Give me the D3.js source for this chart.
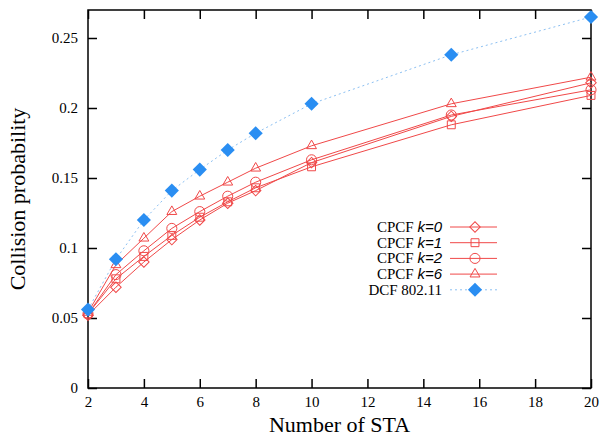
<!DOCTYPE html>
<html>
<head>
<meta charset="utf-8">
<script src="https://cdn.jsdelivr.net/npm/d3@7"></script>
<style>
  body { margin: 0; background: #fff; }
  svg { display: block; }
</style>
</head>
<body>
<div id="chart"></div>
<script>
  const stations = [2, 3, 4, 5, 6, 7, 8, 10, 15, 20];

  const cpcfK0 = [0.052, 0.072, 0.090, 0.106, 0.120, 0.132, 0.141, 0.161, 0.194, 0.218];
  const cpcfK1 = [0.053, 0.078, 0.094, 0.109, 0.122, 0.133, 0.143, 0.158, 0.188, 0.209];
  const cpcfK2 = [0.053, 0.081, 0.098, 0.114, 0.126, 0.137, 0.147, 0.163, 0.195, 0.213];
  const cpcfK6 = [0.054, 0.088, 0.107, 0.126, 0.137, 0.147, 0.157, 0.173, 0.203, 0.222];
  const dcf    = [0.056, 0.092, 0.120, 0.141, 0.156, 0.170, 0.182, 0.203, 0.238, 0.265];

  const xTicks = [2, 4, 6, 8, 10, 12, 14, 16, 18, 20];
  const yTicks = [0, 0.05, 0.1, 0.15, 0.2, 0.25];
  const yTickLabels = ['0', '0.05', '0.1', '0.15', '0.2', '0.25'];

  const red = '#f04848', blue = '#2a8ef2', lightBlue = '#8cc0f2';

  const series = [
    { k: '0', values: cpcfK0, marker: 'diamond' },
    { k: '1', values: cpcfK1, marker: 'square' },
    { k: '2', values: cpcfK2, marker: 'circle' },
    { k: '6', values: cpcfK6, marker: 'triangle' }
  ];

  const width = 600, height = 439;
  const margin = { top: 10, right: 9, bottom: 51, left: 88 };

  const svg = d3.select('#chart')
    .append('svg')
      .attr('width', width)
      .attr('height', height);

  const x = d3.scaleLinear()
    .domain([2, 20])
    .range([margin.left, width - margin.right]);

  const y = d3.scaleLinear()
    .domain([0, 0.27])
    .range([height - margin.bottom, margin.top]);

  const serif = '"Liberation Serif", "Times New Roman", serif';
  const sans = '"Liberation Sans", Arial, sans-serif';

  // axes, ticks pointing inward, mirrored on top/right
  const axisB = svg.append('g')
    .attr('transform', `translate(0,${y(0)})`)
    .call(d3.axisBottom(x).tickValues(xTicks).tickSizeInner(-9).tickSizeOuter(0).tickPadding(8));
  const axisT = svg.append('g')
    .attr('transform', `translate(0,${margin.top})`)
    .call(d3.axisTop(x).tickValues(xTicks).tickSizeInner(-9).tickSizeOuter(0).tickFormat(''));
  const axisL = svg.append('g')
    .attr('transform', `translate(${margin.left},0)`)
    .call(d3.axisLeft(y).tickValues(yTicks).tickSizeInner(-9).tickSizeOuter(0).tickPadding(10)
      .tickFormat((d, i) => yTickLabels[i]));
  const axisR = svg.append('g')
    .attr('transform', `translate(${width - margin.right},0)`)
    .call(d3.axisRight(y).tickValues(yTicks).tickSizeInner(-9).tickSizeOuter(0).tickFormat(''));

  [axisB, axisT, axisL, axisR].forEach((g) => {
    g.select('.domain').remove();
    g.selectAll('line').attr('stroke', '#000').attr('stroke-width', 1.5);
    g.selectAll('text')
      .attr('font-family', serif)
      .attr('font-size', 15)
      .attr('fill', '#000');
  });

  svg.append('rect')
    .attr('x', margin.left)
    .attr('y', margin.top)
    .attr('width', x(20) - x(2))
    .attr('height', y(0) - y(0.27))
    .attr('fill', 'none')
    .attr('stroke', '#000')
    .attr('stroke-width', 1.5);

  // axis titles
  svg.append('text')
    .attr('x', (x(2) + x(20)) / 2)
    .attr('y', 432)
    .attr('text-anchor', 'middle')
    .attr('font-family', serif)
    .attr('font-size', 22)
    .text('Number of STA');

  svg.append('text')
    .attr('transform', `translate(25,${(y(0) + y(0.27)) / 2}) rotate(-90)`)
    .attr('text-anchor', 'middle')
    .attr('font-family', serif)
    .attr('font-size', 22)
    .text('Collision probability');

  // diamonds are squares turned by 45 degrees
  const symbolFor = {
    diamond: { gen: d3.symbol().type(d3.symbolSquare2).size(70), rot: 45 },
    square: { gen: d3.symbol().type(d3.symbolSquare2).size(80), rot: 0 },
    circle: { gen: d3.symbol().type(d3.symbolCircle).size(80), rot: 0 },
    triangle: { gen: d3.symbol().type(d3.symbolTriangle2).size(70), rot: 0 }
  };
  const dcfSymbol = d3.symbol().type(d3.symbolSquare).size(100);

  const line = d3.line()
    .x((d, i) => x(stations[i]))
    .y((d) => y(d));

  // DCF dotted line
  svg.append('path')
    .attr('d', line(dcf))
    .attr('fill', 'none')
    .attr('stroke', lightBlue)
    .attr('stroke-width', 1)
    .attr('stroke-dasharray', '2,3');

  series.forEach((s) => {
    svg.append('path')
      .attr('d', line(s.values))
      .attr('fill', 'none')
      .attr('stroke', red)
      .attr('stroke-width', 1);

    const sym = symbolFor[s.marker];
    svg.selectAll(null)
      .data(s.values)
      .enter()
        .append('path')
        .attr('d', sym.gen())
        .attr('transform', (d, i) => `translate(${x(stations[i])},${y(d)}) rotate(${sym.rot})`)
        .attr('fill', 'none')
        .attr('stroke', red)
        .attr('stroke-width', 1);
  });

  svg.selectAll(null)
    .data(dcf)
    .enter()
      .append('path')
      .attr('d', dcfSymbol())
      .attr('transform', (d, i) => `translate(${x(stations[i])},${y(d)}) rotate(45)`)
      .attr('fill', blue);

  // legend
  const legendRows = series.map((s) => ({ label: 'CPCF ', k: s.k, marker: s.marker }))
    .concat([{ label: 'DCF 802.11', k: null, marker: 'dcf' }]);

  const legend = svg.append('g');
  legendRows.forEach((r, i) => {
    const ly = 227 + i * 15.7;
    const t = legend.append('text')
      .attr('x', 442)
      .attr('y', ly + 5)
      .attr('text-anchor', 'end')
      .attr('font-family', serif)
      .attr('font-size', 15)
      .attr('fill', '#000');
    t.append('tspan').text(r.label);
    if (r.k !== null) {
      t.append('tspan')
        .attr('font-family', sans)
        .attr('font-style', 'italic')
        .text('k=' + r.k);
    }

    legend.append('line')
      .attr('x1', 450).attr('x2', 497)
      .attr('y1', ly).attr('y2', ly)
      .attr('stroke', r.marker === 'dcf' ? lightBlue : red)
      .attr('stroke-width', 1)
      .attr('stroke-dasharray', r.marker === 'dcf' ? '2,3' : null);

    if (r.marker === 'dcf') {
      legend.append('path')
        .attr('d', dcfSymbol())
        .attr('transform', `translate(475,${ly}) rotate(45)`)
        .attr('fill', blue);
    } else {
      const sym = symbolFor[r.marker];
      legend.append('path')
        .attr('d', sym.gen())
        .attr('transform', `translate(475,${ly}) rotate(${sym.rot})`)
        .attr('fill', 'none')
        .attr('stroke', red)
        .attr('stroke-width', 1);
    }
  });
</script>
</body>
</html>
